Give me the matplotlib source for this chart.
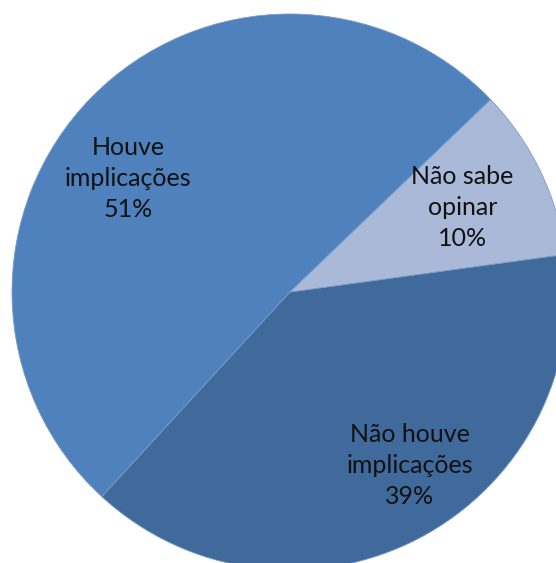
import numpy as np
import matplotlib
matplotlib.use("Agg")
import matplotlib.pyplot as plt

labels = ["Houve\nimplicações", "Não houve\nimplicações", "Não sabe\nopinar"]
shares = [51, 39, 10]
colors = ["#4F81BD", "#3F6A9B", "#AAB9D8"]

# label placement (angle in degrees, fraction of radius)
label_pos = [(145, 0.71), (-55.4, 0.76), (26, 0.69)]

W, H = 556, 563
cx, cy, R = 290, 292, 278

fig = plt.figure(figsize=(W / 100, H / 100), dpi=100)
ax = fig.add_axes([0, 0, 1, 1])
ax.pie(
    shares,
    colors=colors,
    startangle=43.8,
    counterclock=True,
    radius=1.0,
    wedgeprops=dict(linewidth=0.6, edgecolor="#7a9cc8"),
)
ax.set_aspect("auto")
ax.set_xlim(-cx / R, (W - cx) / R)
ax.set_ylim(-(H - cy) / R, cy / R)
ax.axis("off")

for lab, val, (ang, r) in zip(labels, shares, label_pos):
    a = np.deg2rad(ang)
    ax.text(
        r * np.cos(a), r * np.sin(a), f"{lab}\n{val}%",
        ha="center", va="center", fontsize=18, family="Lato",
        color="#111111", linespacing=1.42,
    )

fig.savefig("out.png", dpi=100)
